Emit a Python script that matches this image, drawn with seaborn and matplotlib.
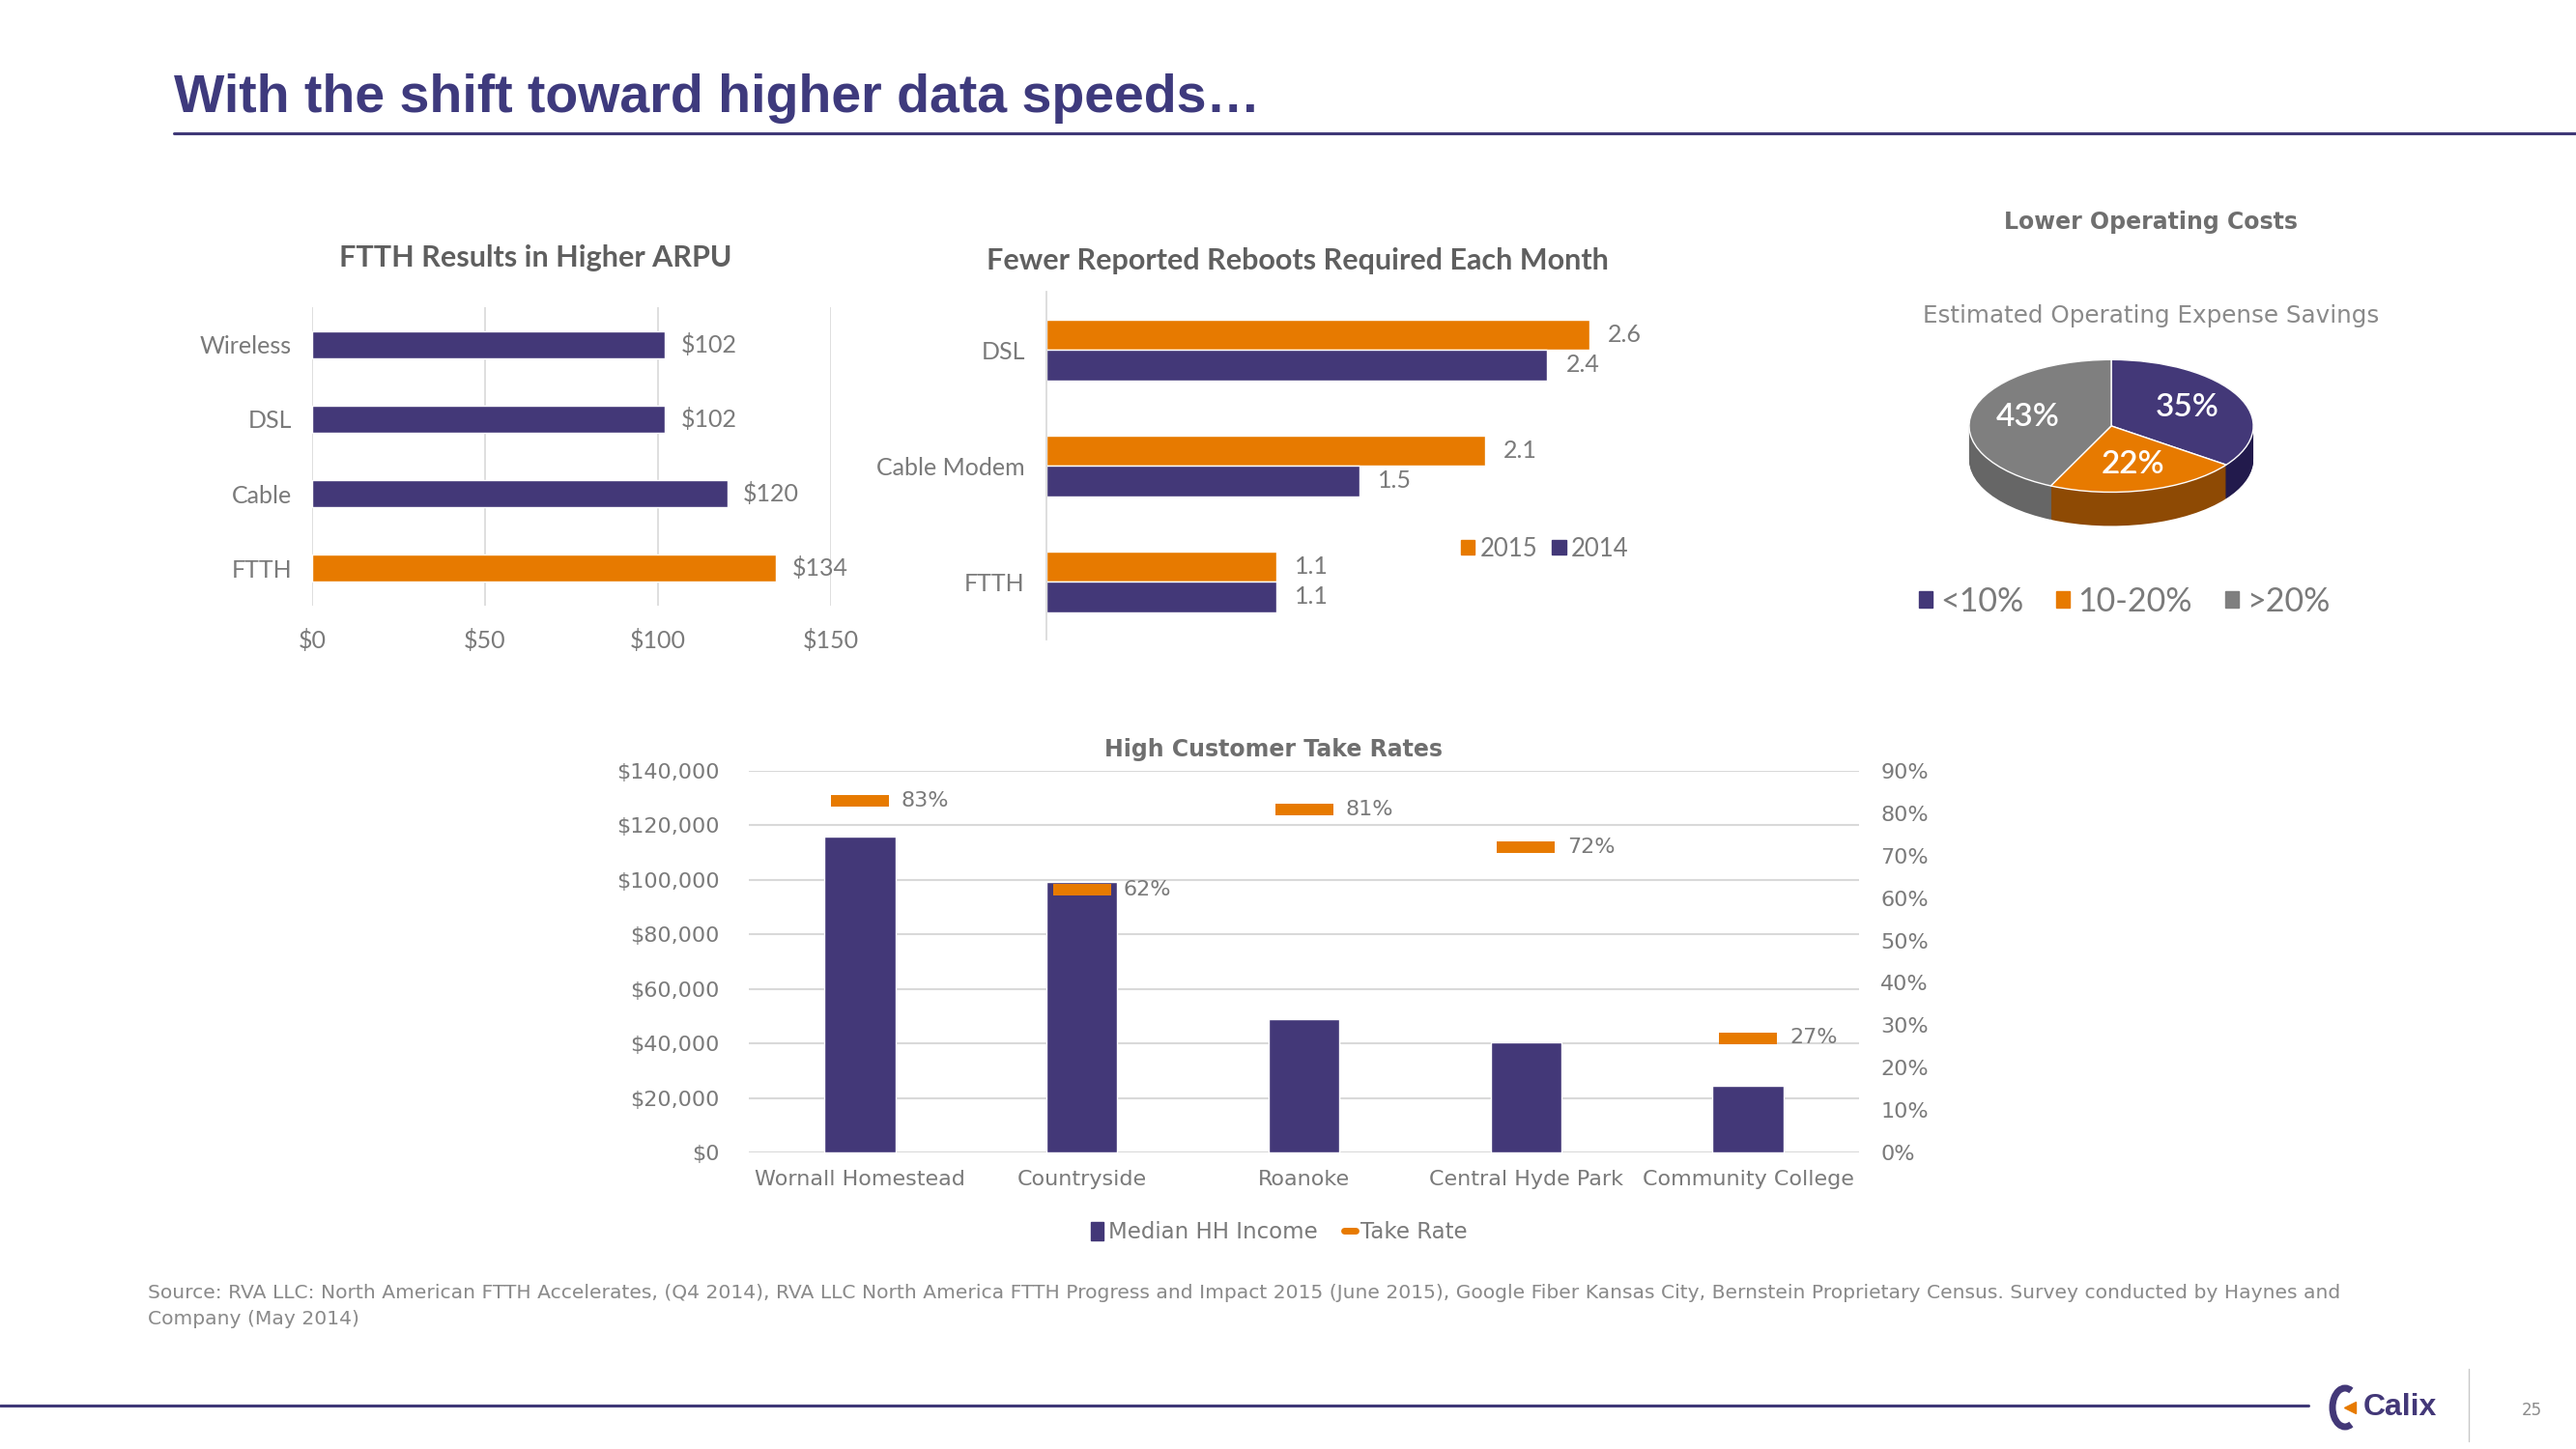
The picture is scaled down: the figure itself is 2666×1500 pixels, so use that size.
import matplotlib.pyplot as plt
import seaborn as sns
import pandas as pd
import numpy as np
from matplotlib.patches import Patch, Arc
from matplotlib.lines import Line2D

# ---- data ----
arpu_cats = ['Wireless', 'DSL', 'Cable', 'FTTH']
arpu_vals = [102, 102, 120, 134]

reboot_cats = ['DSL', 'Cable Modem', 'FTTH']
reboots_2015 = [2.6, 2.1, 1.1]
reboots_2014 = [2.4, 1.5, 1.1]

opex_labels = ['<10%', '10-20%', '>20%']
opex_share = [35, 22, 43]

areas = ['Wornall Homestead', 'Countryside', 'Roanoke', 'Central Hyde Park', 'Community College']
median_income = [116000, 99200, 48900, 40400, 24300]
take_rate = [0.83, 0.62, 0.81, 0.72, 0.27]

income_ticks = list(range(0, 140001, 20000))
rate_ticks = [i / 10 for i in range(10)]

source = ('Source: RVA LLC: North American FTTH Accelerates, (Q4 2014), RVA LLC North America FTTH Progress '
          'and Impact 2015 (June 2015), Google Fiber Kansas City, Bernstein Proprietary Census. Survey conducted by Haynes and\n'
          'Company (May 2014)')

# ---- style ----
PURPLE = '#433878'
ORANGE = '#e77a00'
PIEGRAY = '#7f7f7f'
TXT = '#7a7a7a'
TITLE = '#5f5f5f'
GRID = '#d9d9d9'
W, H = 2666, 1500

sns.set_theme(style='white')
plt.rcParams['font.family'] = ['Lato', 'DejaVu Sans']

fig = plt.figure(figsize=(W / 100, H / 100), dpi=100)


def box(l, t, r, b):
    return [l / W, 1 - b / H, (r - l) / W, (b - t) / H]


def fig_y(y):
    return 1 - y / H


def set_font(ax, family, size, color, which='both'):
    labels = []
    if which in ('both', 'x'):
        labels += ax.get_xticklabels()
    if which in ('both', 'y'):
        labels += ax.get_yticklabels()
    for t in labels:
        t.set_family(family)
        t.set_fontsize(size)
        t.set_color(color)


# decoration layer (title rules, logo)
deco = fig.add_axes([0, 0, 1, 1])
deco.set_xlim(0, W)
deco.set_ylim(H, 0)
deco.axis('off')
deco.plot([180, W], [138, 138], color='#3f3877', lw=2.2)
deco.plot([0, 2389], [1455, 1455], color='#3f3877', lw=2.2)
deco.plot([2555, 2555], [1417, 1492], color='#c8c8c8', lw=1)
deco.add_patch(Arc((2427, 1457), 26, 40, theta1=70, theta2=290, color=PURPLE, lw=5))
deco.plot([2432], [1457], marker='<', color=ORANGE, ms=9)
deco.text(2446, 1457, 'Calix', family='Liberation Sans', weight='bold', fontsize=23,
          color=PURPLE, va='center', ha='left')
deco.text(2620, 1460, '25', family='DejaVu Sans', fontsize=12, color='#8c8c8c', va='center', ha='center')

fig.text(180 / W, fig_y(116), 'With the shift toward higher data speeds\u2026', family='Liberation Sans',
         weight='bold', fontsize=40, color='#3e3a7d', va='baseline', ha='left')

# ---- chart 1: ARPU ----
ax1 = fig.add_axes(box(323, 318, 860, 627))
sns.barplot(x=arpu_vals, y=arpu_cats, hue=arpu_cats, palette=[PURPLE, PURPLE, PURPLE, ORANGE],
            legend=False, saturation=1, width=0.36, orient='h', ax=ax1)
ax1.set_xlim(0, 150)
ax1.set_ylim(3.5, -0.5)
ax1.set_xticks([0, 50, 100, 150])
ax1.set_xticklabels(['$0', '$50', '$100', '$150'])
ax1.grid(axis='x', color=GRID, lw=1.2)
ax1.set_axisbelow(True)
sns.despine(ax=ax1, left=True, bottom=True)
ax1.tick_params(axis='x', length=0, pad=17)
ax1.tick_params(axis='y', length=0, pad=15)
ax1.set_xlabel('')
ax1.set_ylabel('')
set_font(ax1, 'Lato', 18, TXT)
for c in ax1.containers:
    ax1.bar_label(c, fmt='${:.0f}', padding=12, fontsize=18, color=TXT, family='Lato')
fig.text(554 / W, fig_y(267), 'FTTH Results in Higher ARPU', family='Lato', weight='bold',
         fontsize=22, color=TITLE, ha='center', va='center')

# ---- chart 2: reboots ----
ax2 = fig.add_axes(box(1083, 302, 1731, 662))
df_reb = pd.DataFrame({'tech': reboot_cats * 2,
                       'year': ['2015'] * 3 + ['2014'] * 3,
                       'val': reboots_2015 + reboots_2014})
sns.barplot(data=df_reb, x='val', y='tech', hue='year', hue_order=['2015', '2014'],
            palette=[ORANGE, PURPLE], saturation=1, width=0.525, orient='h', legend=False, ax=ax2)
ax2.set_xlim(0, 3)
ax2.set_ylim(2.5, -0.5)
ax2.set_xticks([])
sns.despine(ax=ax2, bottom=True)
ax2.spines['left'].set_color(GRID)
ax2.tick_params(axis='y', length=0, pad=16)
ax2.set_xlabel('')
ax2.set_ylabel('')
set_font(ax2, 'Lato', 18, TXT, which='y')
for c in ax2.containers:
    ax2.bar_label(c, fmt='{:.1f}', padding=14, fontsize=18, color=TXT, family='Lato')
ax2.legend(handles=[Patch(color=ORANGE), Patch(color=PURPLE)], labels=['2015', '2014'],
           loc='center left', bbox_to_anchor=(1512 / W, fig_y(568)), bbox_transform=fig.transFigure,
           ncol=2, frameon=False, handlelength=0.55, handleheight=0.55, handletextpad=0.2,
           columnspacing=0.6, borderpad=0, borderaxespad=0,
           prop={'family': 'Lato', 'size': 18.5}, labelcolor=TXT)
fig.text(1343 / W, fig_y(270), 'Fewer Reported Reboots Required Each Month', family='Lato', weight='bold',
         fontsize=22, color=TITLE, ha='center', va='center')

# ---- chart 3: 3D-looking pie ----
ax3 = fig.add_axes(box(2020, 360, 2350, 560))
side_cols = ['#221a4c', '#8e4a04', '#666666']
for d in np.linspace(0.51, 0.0, 36):
    ax3.pie(opex_share, colors=side_cols, startangle=90, counterclock=False, center=(0, -d),
            wedgeprops=dict(linewidth=0))
ax3.pie(opex_share, colors=[PURPLE, ORANGE, PIEGRAY], startangle=90, counterclock=False,
        autopct=lambda p: f'{p:.0f}%', pctdistance=0.6,
        wedgeprops=dict(edgecolor='white', linewidth=1),
        textprops=dict(color='white', fontsize=24, family='Lato', weight='semibold'))
ax3.set_aspect('auto')
ax3.set_xlim(-1.122, 1.122)
ax3.set_ylim(-1.737, 1.18)
ax3.axis('off')
fig.legend(handles=[Patch(color=c) for c in [PURPLE, ORANGE, PIEGRAY]], labels=opex_labels,
           loc='center left', bbox_to_anchor=(1986 / W, fig_y(623)), ncol=3, frameon=False,
           handlelength=0.4, handleheight=0.4, handletextpad=0.25, columnspacing=1.0,
           borderpad=0, borderaxespad=0, prop={'family': 'Lato', 'size': 24.5}, labelcolor=TXT)
fig.text(2226 / W, fig_y(230), 'Lower Operating Costs', family='DejaVu Sans', weight='bold',
         fontsize=17, color='#6f6f6f', ha='center', va='center')
fig.text(2226 / W, fig_y(327), 'Estimated Operating Expense Savings', family='DejaVu Sans',
         fontsize=17.7, color='#8a8a8a', ha='center', va='center')

# ---- chart 4: income vs take rate ----
ax4 = fig.add_axes(box(775, 798, 1924, 1193))
sns.barplot(x=areas, y=median_income, color=PURPLE, saturation=1, width=0.32, ax=ax4)
ax4.set_xlim(-0.5, 4.5)
ax4.set_ylim(0, 140000)
ax4.set_yticks(income_ticks)
ax4.set_yticklabels([f'${v:,}' for v in income_ticks])
ax4.grid(axis='y', color=GRID, lw=1.5)
ax4.set_axisbelow(True)
sns.despine(ax=ax4, left=True, bottom=True)
ax4.tick_params(axis='y', length=0, pad=22)
ax4.tick_params(axis='x', length=0, pad=13)
ax4.set_xlabel('')
ax4.set_ylabel('')
set_font(ax4, 'DejaVu Sans', 16, TXT)

ax4b = ax4.twinx()
ax4b.plot(range(len(take_rate)), take_rate, ls='none', marker='_', ms=43, mew=8.6, color=ORANGE)
ax4b.set_ylim(0, 0.9)
ax4b.set_yticks(rate_ticks)
ax4b.set_yticklabels([f'{v:.0%}' for v in rate_ticks])
ax4b.tick_params(axis='y', length=0, pad=16)
for s in ax4b.spines.values():
    s.set_visible(False)
set_font(ax4b, 'DejaVu Sans', 16, TXT, which='y')
for i, v in enumerate(take_rate):
    ax4b.annotate(f'{v:.0%}', (i, v), xytext=(31, 0), textcoords='offset points', va='center',
                  ha='left', family='DejaVu Sans', fontsize=16, color=TXT)
fig.legend(handles=[Patch(color=PURPLE), Line2D([], [], color=ORANGE, lw=5)],
           labels=['Median HH Income', 'Take Rate'], loc='center', bbox_to_anchor=(1324 / W, fig_y(1276)),
           ncol=2, frameon=False, handlelength=0.55, handleheight=0.9, handletextpad=0.2, columnspacing=1.2,
           borderpad=0, prop={'family': 'DejaVu Sans', 'size': 16.5}, labelcolor=TXT)
fig.text(1318 / W, fig_y(776), 'High Customer Take Rates', family='DejaVu Sans', weight='bold',
         fontsize=17, color='#6f6f6f', ha='center', va='center')

# ---- source ----
fig.text(153 / W, fig_y(1352), source, family='DejaVu Sans', fontsize=14.6, color='#8a8a8a',
         ha='left', va='center', linespacing=1.55)

fig.savefig('out.png', dpi=100)
